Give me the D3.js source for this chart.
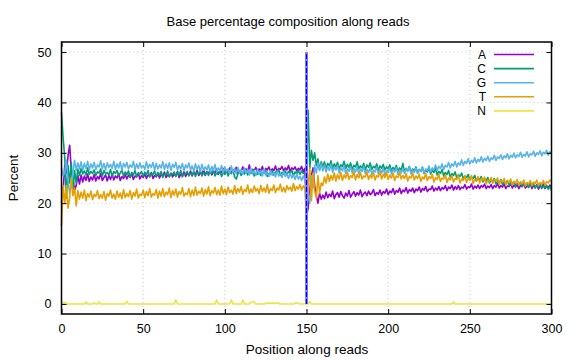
<!DOCTYPE html>
<html><head><meta charset="utf-8">
<script src="https://cdn.jsdelivr.net/npm/d3@7"></script>
<style>
html,body{margin:0;padding:0;background:#fff;}
svg{display:block;font-family:"Liberation Sans",Arial,sans-serif;}
</style></head>
<body><svg id="chart" width="576" height="360"></svg>
<script>
const seriesNames = ["A","C","G","T","N"];
const seriesColors = ["#9400d3","#009e73","#56b4e9","#e69f00","#f0e442"];
const xTicks = [0,50,100,150,200,250,300];
const yTicks = [0,10,20,30,40,50];
const splitPosition = 150;
const splitRange = [0,50];

const valuesA = [
20.0,22.5,27.5,26.0,29.5,31.5,26.5,25.0,22.5,23.5,
25.5,23.8,25.6,24.2,25.4,24.5,25.8,24.3,25.2,24.6,
25.7,24.4,25.3,24.8,25.9,24.5,25.1,25.6,24.4,25.5,
24.7,25.8,24.6,25.4,25.0,25.9,24.5,25.3,24.9,25.7,
24.8,25.6,25.1,25.9,24.7,25.4,25.2,26.0,24.8,25.5,
25.1,25.8,24.9,25.6,25.3,26.1,24.9,25.5,25.2,25.9,
25.0,25.7,25.4,26.2,25.1,25.6,25.3,26.0,25.2,25.8,
25.4,26.3,25.1,25.7,25.5,26.2,25.3,25.9,25.6,26.4,
25.4,26.1,25.7,26.5,25.5,26.0,25.8,26.6,25.5,26.2,
25.9,26.7,25.6,26.3,26.0,26.8,25.7,26.4,26.1,26.9,
25.8,26.5,26.2,27.0,25.9,26.6,26.3,27.1,26.0,26.5,
26.4,27.2,26.1,26.8,26.3,27.6,26.0,26.7,26.5,27.1,
26.2,26.8,26.4,27.3,26.1,26.9,26.6,27.2,26.3,26.8,
26.5,27.4,26.2,26.9,26.7,27.3,26.4,27.0,26.6,27.5,
26.3,27.0,26.7,27.2,26.4,26.9,26.6,27.3,26.2,26.9,
17.5,19.0,22.5,25.5,27.0,23.5,21.5,20.0,22.0,20.8,
21.6,20.9,22.2,21.1,21.8,21.3,22.4,20.9,21.7,22.1,
21.2,22.3,21.5,21.0,22.0,21.4,22.5,21.2,21.8,22.3,
21.4,22.1,21.6,22.6,21.3,21.9,22.2,21.5,22.4,21.7,
22.0,22.7,21.5,22.1,21.8,22.6,21.6,22.3,22.0,22.8,
21.7,22.4,22.1,22.9,21.8,22.5,22.2,23.0,21.9,22.6,
22.3,23.1,22.0,22.7,22.4,23.0,22.1,22.8,22.5,23.2,
22.2,22.9,22.6,23.3,22.3,22.8,22.7,23.4,22.4,23.0,
22.6,23.3,22.5,23.1,22.8,23.5,22.5,23.2,22.9,23.6,
22.6,23.3,22.8,23.5,22.7,23.2,23.0,23.7,22.8,23.3,
23.1,23.8,22.8,23.4,23.0,23.6,22.9,23.5,23.2,23.8,
22.9,23.4,23.1,23.7,22.9,23.5,23.2,23.9,23.0,23.5,
23.2,23.8,22.9,23.4,23.3,23.9,23.0,23.6,23.2,23.7,
22.9,23.5,23.3,23.8,23.0,23.4,23.2,23.9,22.9,23.5,
23.1,23.7,22.8,23.4,23.2,23.8,22.9,23.3,23.1,23.6,
22.9];

const valuesC = [
38.0,33.0,29.0,21.0,27.5,24.0,28.0,22.5,26.5,24.0,
26.8,25.5,26.9,25.8,26.4,25.6,27.0,25.7,26.3,25.9,
26.6,25.5,26.2,26.0,26.8,25.4,26.5,25.8,26.1,25.6,
26.7,25.3,26.3,25.9,26.5,25.5,26.0,26.6,25.4,26.2,
25.7,26.4,25.2,26.1,25.6,26.5,25.3,26.0,25.8,26.3,
25.4,26.2,25.6,26.5,25.2,25.9,25.7,26.4,25.3,26.1,
25.5,26.3,25.1,25.8,25.6,26.4,25.2,25.9,25.7,26.2,
25.3,26.1,25.6,26.5,25.2,25.8,25.9,26.3,25.4,26.0,
25.6,26.4,25.3,26.1,25.8,26.5,25.4,26.0,25.7,26.3,
25.5,26.2,25.9,26.6,25.4,26.0,25.8,26.4,25.3,26.1,
25.7,26.5,25.4,26.2,25.9,26.6,25.2,24.8,25.8,26.3,
25.5,26.1,25.8,26.5,25.6,26.2,25.9,26.6,25.4,26.0,
25.7,26.4,25.5,26.1,25.9,26.6,25.3,25.9,25.8,26.5,
25.6,26.2,25.9,26.7,25.5,26.1,25.8,26.4,25.6,26.3,
25.9,26.6,25.5,26.2,25.8,26.5,25.7,26.4,25.9,26.0,
26.0,38.5,27.0,30.5,28.5,30.0,27.5,28.8,26.6,28.2,
27.3,28.2,27.0,27.9,27.4,28.4,26.9,27.8,27.2,28.1,
26.8,27.6,27.3,28.3,26.9,27.7,27.1,28.0,26.7,27.5,
27.2,28.2,26.8,27.4,27.0,27.9,26.6,27.6,27.1,28.0,
26.7,27.3,27.0,27.8,26.5,27.4,26.9,27.7,26.6,27.2,
26.8,27.6,26.4,27.1,26.7,27.5,26.3,27.0,26.6,27.9,
26.2,26.9,26.5,27.3,26.1,26.8,26.4,27.2,26.0,26.7,
26.3,27.1,25.9,26.6,26.2,27.0,25.8,26.5,26.1,26.9,
25.6,26.3,25.9,26.7,25.4,26.1,25.7,26.5,25.2,25.9,
25.5,26.2,25.0,25.7,25.3,26.0,24.8,25.4,25.1,25.7,
24.6,25.2,24.9,25.5,24.4,25.0,24.7,25.3,24.2,24.8,
24.5,25.1,24.0,24.6,24.3,24.9,23.8,24.4,24.1,24.7,
23.7,24.2,23.9,24.5,23.5,24.1,23.8,24.3,23.4,23.9,
23.6,24.2,23.3,23.8,23.5,24.0,23.1,23.7,23.4,23.9,
23.0,23.6,23.2,23.8,22.9,23.4,23.1,23.6,22.8,23.3,
22.5];

const valuesG = [
27.0,25.5,26.0,28.5,24.5,22.0,23.5,26.0,28.5,26.5,
28.0,26.8,28.2,26.5,27.9,26.9,28.3,26.6,27.8,27.0,
28.1,26.7,27.6,27.2,28.4,26.8,27.9,26.6,28.0,27.1,
27.7,26.9,28.3,26.7,27.8,27.0,28.2,26.5,27.9,27.2,
28.1,26.8,27.6,27.1,28.3,26.6,27.8,26.9,28.0,27.0,
27.5,26.7,28.2,26.9,27.7,27.1,28.1,26.6,27.9,26.8,
27.6,27.0,28.2,26.7,27.8,26.9,28.0,26.5,27.7,27.1,
28.1,26.6,27.5,26.8,27.9,26.5,27.6,27.0,28.0,26.6,
27.4,26.4,27.8,26.7,27.5,26.3,27.7,26.5,27.2,26.6,
27.6,26.2,27.3,26.5,27.7,26.1,27.0,26.4,27.5,26.0,
27.2,26.3,26.8,25.9,27.4,26.1,26.9,25.8,27.1,26.0,
26.6,25.7,27.0,25.9,26.7,25.6,26.9,25.8,26.5,25.5,
26.8,25.7,26.4,25.4,26.7,25.6,26.2,25.3,26.5,25.5,
26.1,25.2,26.4,25.4,25.9,25.1,26.3,25.3,25.8,24.9,
26.0,25.0,25.6,24.7,25.8,24.8,25.3,24.5,25.4,24.6,
25.0,22.0,20.0,25.5,23.0,27.5,26.0,28.0,26.5,27.8,
26.4,27.6,26.2,27.3,26.5,27.7,26.1,27.2,26.6,27.5,
26.0,27.1,26.4,27.4,25.9,26.9,26.3,27.3,26.0,27.0,
26.2,27.2,25.8,26.8,26.3,27.3,25.9,26.7,26.1,27.1,
25.7,26.6,26.2,27.2,25.8,26.8,26.0,26.9,25.6,26.5,
26.1,27.0,25.8,26.7,26.2,27.1,25.7,26.6,26.0,26.9,
25.9,26.8,26.3,27.2,25.8,26.6,26.1,27.0,25.9,26.7,
26.3,27.2,26.0,26.8,26.5,27.4,26.2,27.0,26.6,27.6,
26.5,27.3,26.9,27.8,26.7,27.5,27.2,28.1,27.0,27.8,
27.4,28.3,27.2,28.0,27.6,28.6,27.5,28.3,27.9,28.8,
27.8,28.5,28.1,29.0,28.0,28.7,28.3,29.2,28.2,28.9,
28.5,29.3,28.3,29.0,28.7,29.5,28.5,29.2,28.9,29.6,
28.7,29.4,29.0,29.8,28.8,29.5,29.1,29.9,29.0,29.6,
29.3,30.1,29.1,29.7,29.4,30.2,29.2,29.8,29.6,30.3,
29.3,30.0,29.7,30.4,29.4,30.1,29.8,30.5,29.5,30.2,
29.9];

const valuesT = [
15.5,23.5,20.0,23.5,19.0,21.0,25.0,21.5,23.0,19.5,
22.5,20.8,22.2,21.0,22.6,20.5,21.9,21.2,22.4,20.7,
21.8,21.3,22.5,20.9,21.7,21.0,22.3,20.6,21.9,21.4,
22.6,21.0,21.8,20.8,22.4,21.2,22.0,20.9,22.7,21.1,
21.9,21.3,22.5,20.8,22.1,21.4,22.8,21.0,21.8,21.5,
22.6,21.1,22.3,21.5,22.9,21.2,21.9,21.6,22.7,21.0,
22.4,21.4,22.9,21.3,22.2,21.7,23.0,21.1,22.5,21.6,
22.8,21.2,22.3,21.8,23.1,21.4,22.0,21.7,22.9,21.3,
22.6,21.5,23.2,21.6,22.4,21.9,23.0,21.4,22.7,21.8,
23.3,21.5,22.5,22.0,23.1,21.7,22.6,21.6,23.4,21.9,
22.8,21.7,23.2,22.1,22.6,21.8,23.5,21.9,22.9,22.2,
23.3,21.8,22.7,22.3,23.6,22.0,22.8,22.1,23.4,22.4,
22.9,21.9,23.5,22.3,23.0,22.2,23.7,22.0,22.9,22.5,
23.6,22.1,23.0,22.6,23.8,22.3,23.1,22.2,23.5,22.7,
23.2,22.4,23.9,22.5,23.3,22.8,23.7,22.6,23.4,23.0,
17.0,23.5,27.0,20.5,26.0,22.5,21.0,25.5,22.0,24.0,
23.5,25.2,24.0,25.8,24.3,25.5,24.6,26.0,24.4,25.7,
24.8,26.1,24.5,25.6,25.0,26.2,24.7,25.5,25.1,26.3,
24.6,25.7,25.0,26.1,24.8,25.4,25.2,26.2,24.7,25.6,
25.0,26.0,24.6,25.5,25.2,26.3,24.8,25.7,25.1,26.1,
24.7,25.6,25.0,26.0,24.5,25.4,25.1,26.2,24.8,25.5,
24.9,25.9,24.4,25.3,25.0,26.0,24.6,25.4,24.9,25.8,
24.3,25.2,24.8,25.9,24.5,25.3,24.9,25.7,24.2,25.1,
24.7,25.8,24.3,25.0,24.8,25.6,24.1,25.0,24.6,25.5,
24.2,24.9,24.7,25.6,24.0,24.8,24.5,25.4,24.1,25.0,
24.6,25.5,23.9,24.7,24.4,25.3,24.0,24.9,24.5,25.2,
23.8,24.6,24.3,25.1,23.9,24.7,24.4,25.0,23.7,24.5,
24.2,24.9,23.6,24.4,24.1,24.8,23.5,24.3,24.0,24.7,
23.6,24.2,23.9,24.6,23.4,24.1,23.8,24.5,23.5,24.2,
23.9,24.6,23.5,24.1,23.8,24.5,23.6,24.3,24.0,24.6,
24.3];

const valuesN = [
0.6,0.2,0.3,0,0,0,0,0,0,0, 0,0,0,0,0,0.4,0,0,0,0,
0.2,0,0,0.4,0,0,0,0,0,0, 0,0,0,0,0,0,0,0,0,0,
0.5,0,0,0,0,0,0,0,0,0, 0,0,0,0,0,0,0,0,0,0,
0,0,0,0,0,0,0,0,0,0, 0.8,0,0,0,0,0,0,0,0,0,
0,0,0,0,0,0,0,0,0,0, 0,0,0,0,0,0.8,0,0,0,0,
0,0,0,0,0.8,0,0,0,0,0, 0,0.8,0,0,0,0,0.3,0.5,0.4,0,
0,0,0,0,0,0.15,0.15,0.15,0.15,0.15, 0.15,0.15,0.15,0.15,0,0,0,0,0,0,
0,0,0,0.15,0.15,0.15,0,0,0,0, 0,0,0.5,0,0,0,0,0,0,0,
0,0,0,0,0,0,0,0,0,0, 0,0,0,0,0,0,0,0,0,0,
0,0,0,0,0,0,0,0,0,0, 0,0,0,0,0,0,0,0,0,0,
0,0,0,0,0,0,0,0,0,0, 0,0,0,0,0,0,0,0,0,0,
0,0,0,0,0,0,0,0,0,0, 0,0,0,0,0,0,0,0,0,0,
0.4,0,0,0,0,0,0,0,0,0, 0,0,0,0,0,0,0,0,0,0,
0,0,0,0,0,0,0,0,0,0, 0,0,0,0,0,0,0,0,0,0,
0,0,0,0,0,0,0,0,0,0, 0,0,0,0,0,0,0,0,0,0,
0];

const allValues = [valuesA, valuesC, valuesG, valuesT, valuesN];

const svg = d3.select("#chart");
const L = 61.5, R = 551.5, T = 42, B = 314;
const x = d3.scaleLinear().domain([0,300]).range([L,R]);
const y = d3.scaleLinear().domain([-2,52]).range([B,T]);

// grid
const grid = svg.append("g");
grid.selectAll("line.gx").data(xTicks.filter(d=>d>0 && d<300)).join("line")
  .attr("x1",d=>x(d)).attr("x2",d=>x(d)).attr("y1",T).attr("y2",B)
  .attr("stroke","#c8c8c8").attr("stroke-width",1).attr("stroke-dasharray","1,3");
grid.selectAll("line.gy").data(yTicks).join("line")
  .attr("x1",L).attr("x2",R).attr("y1",d=>y(d)).attr("y2",d=>y(d))
  .attr("stroke","#c8c8c8").attr("stroke-width",1).attr("stroke-dasharray","1,3");

// series
const line = d3.line().x((d,i)=>x(i)).y(d=>y(d));
const plot = svg.append("g");
allValues.forEach((vals,k)=>{
  plot.append("path").datum(vals).attr("d",line)
    .attr("fill","none").attr("stroke",seriesColors[k])
    .attr("stroke-width",1.6).attr("stroke-linejoin","round");
});

// split marker
plot.append("line").attr("x1",x(splitPosition)).attr("x2",x(splitPosition))
  .attr("y1",y(splitRange[0])).attr("y2",y(splitRange[1]))
  .attr("stroke","#8080ff").attr("stroke-width",3);
plot.append("line").attr("x1",x(splitPosition)).attr("x2",x(splitPosition))
  .attr("y1",y(splitRange[0])).attr("y2",y(splitRange[1]))
  .attr("stroke","#0000e0").attr("stroke-width",1.2).attr("stroke-dasharray","5,2");

// axes (inward ticks, mirrored)
const tl = 5;
const axB = svg.append("g").attr("transform",`translate(0,${B})`)
  .call(d3.axisBottom(x).tickValues(xTicks).tickSizeInner(-tl).tickSizeOuter(0).tickPadding(10));
const axT = svg.append("g").attr("transform",`translate(0,${T})`)
  .call(d3.axisTop(x).tickValues(xTicks).tickSizeInner(-tl).tickSizeOuter(0).tickFormat(""));
const axL = svg.append("g").attr("transform",`translate(${L},0)`)
  .call(d3.axisLeft(y).tickValues(yTicks).tickSizeInner(-tl).tickSizeOuter(0).tickPadding(10));
const axR = svg.append("g").attr("transform",`translate(${R},0)`)
  .call(d3.axisRight(y).tickValues(yTicks).tickSizeInner(-tl).tickSizeOuter(0).tickFormat(""));
[axB,axT,axL,axR].forEach(a=>{
  a.select(".domain").remove();
  a.selectAll(".tick line").attr("stroke","#000").attr("stroke-width",1);
  a.selectAll("text").attr("font-size",12.5).attr("fill","#000")
    .attr("font-family","'Liberation Sans',Arial,sans-serif");
});
svg.append("rect").attr("x",L).attr("y",T).attr("width",R-L).attr("height",B-T)
  .attr("fill","none").attr("stroke","#000").attr("stroke-width",1.5);

// legend
const leg = svg.append("g");
seriesNames.forEach((nm,k)=>{
  const yy = 54.5 + k*14.1;
  leg.append("text").attr("x",486).attr("y",yy).attr("dy","0.36em")
    .attr("text-anchor","end").attr("font-size",12).text(nm);
  leg.append("line").attr("x1",494).attr("x2",534).attr("y1",yy).attr("y2",yy)
    .attr("stroke",seriesColors[k]).attr("stroke-width",1.6);
});

// titles
svg.append("text").attr("x",288).attr("y",26).attr("text-anchor","middle")
  .attr("font-size",13).text("Base percentage composition along reads");
svg.append("text").attr("x",307).attr("y",354).attr("text-anchor","middle")
  .attr("font-size",13.5).text("Position along reads");
svg.append("text").attr("transform","translate(18,178) rotate(-90)")
  .attr("text-anchor","middle").attr("font-size",13.5).text("Percent");
</script></body></html>
